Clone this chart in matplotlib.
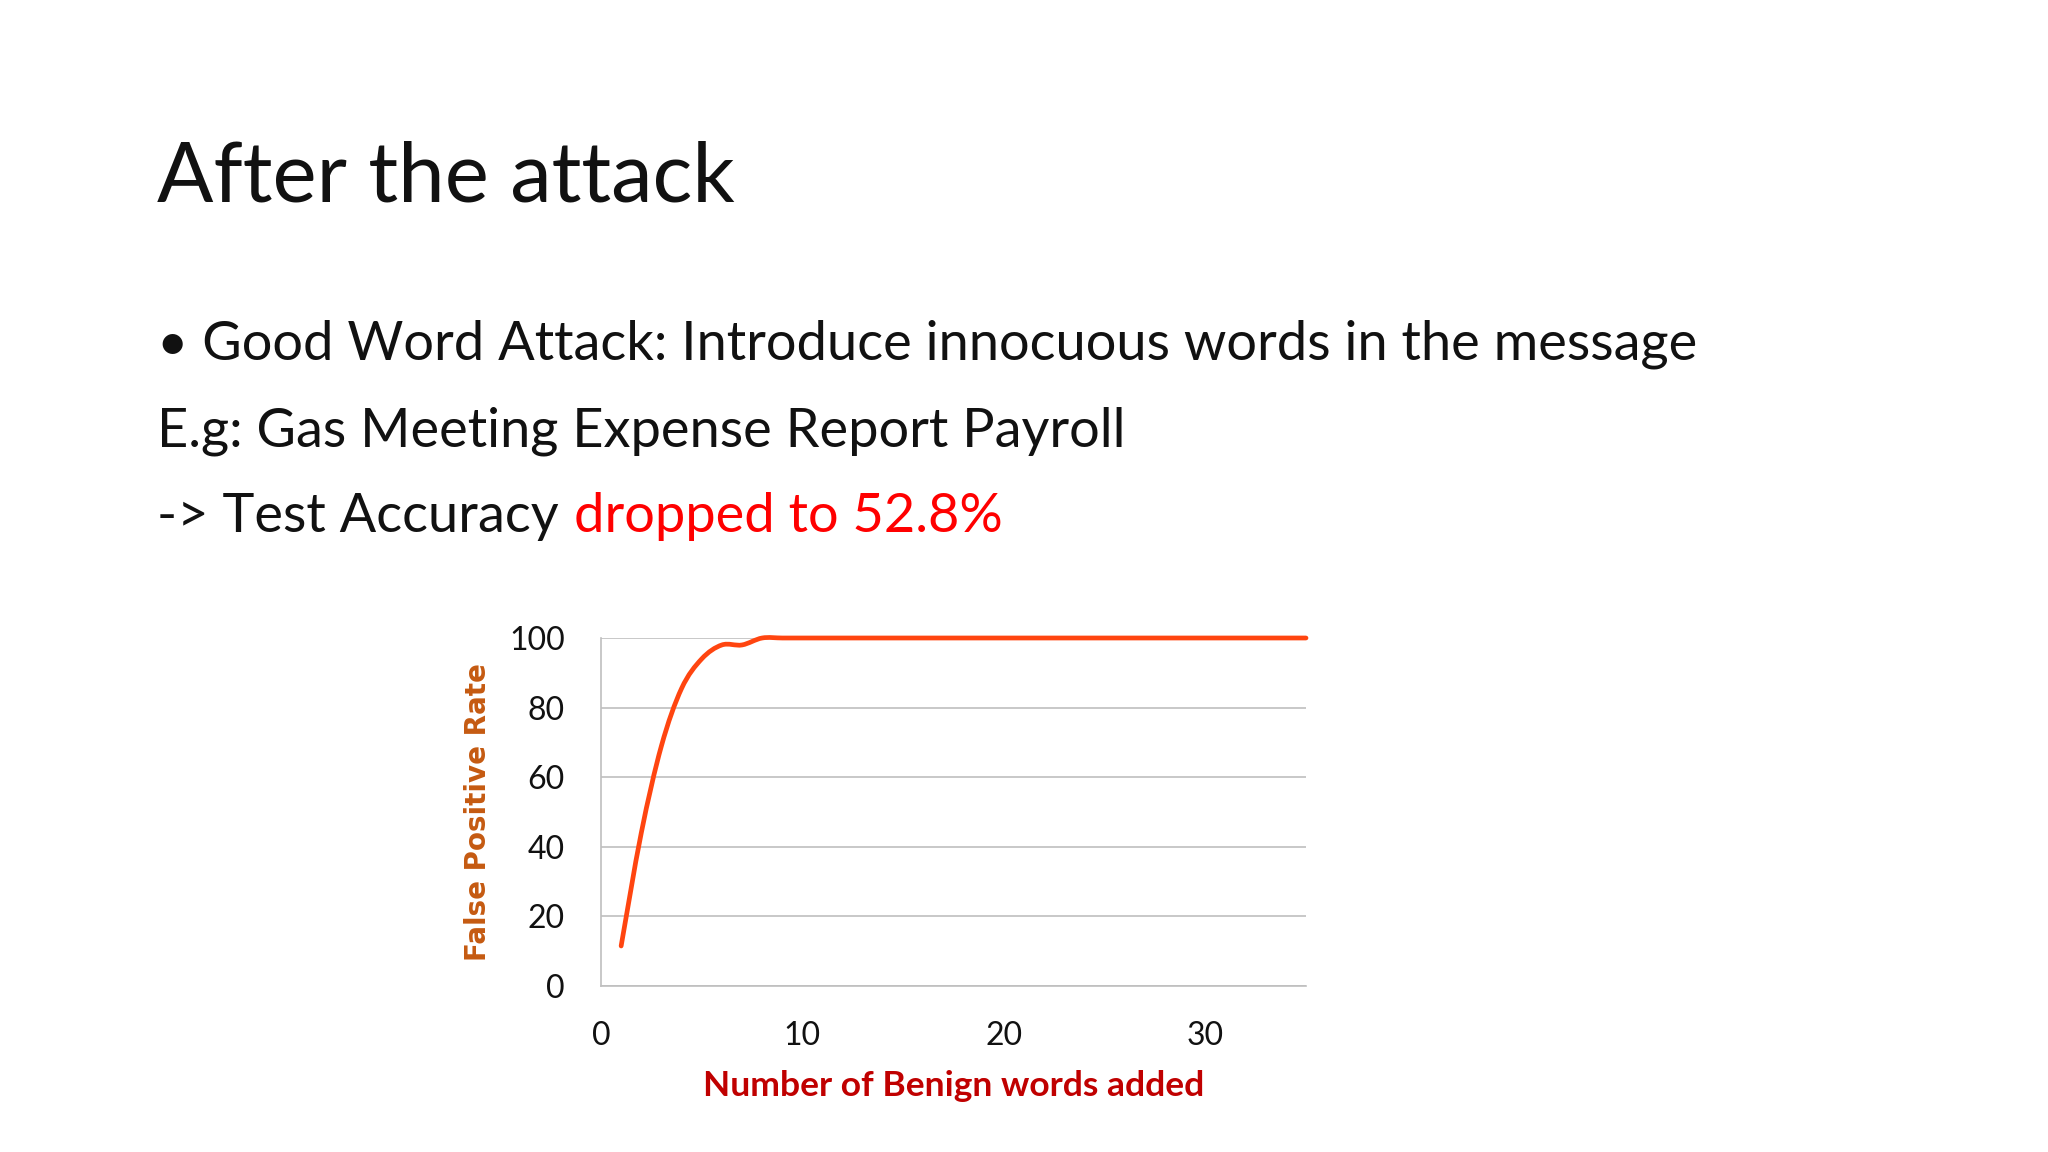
import numpy as np
import matplotlib
matplotlib.use('Agg')
import matplotlib.pyplot as plt
from matplotlib.path import Path
from matplotlib.patches import PathPatch

# Values
words_added = [1, 2, 3, 4, 5, 6, 7, 8, 9, 10, 11, 12, 13, 14, 15, 16, 17, 18,
               19, 20, 21, 22, 23, 24, 25, 26, 27, 28, 29, 30, 31, 32, 33, 34, 35]
false_pos_rate = [11.5, 44, 69, 85.5, 94, 98, 98, 100, 100, 100, 100, 100, 100, 100,
                  100, 100, 100, 100, 100, 100, 100, 100, 100, 100, 100, 100, 100,
                  100, 100, 100, 100, 100, 100, 100, 100]
y_ticks = [0, 20, 40, 60, 80, 100]
x_ticks = [0, 10, 20, 30]

TITLE = "After the attack"
BULLET = "\u2022 Good Word Attack: Introduce innocuous words in the message"
EXAMPLE = "E.g: Gas Meeting Expense Report Payroll"
RESULT_BLACK = "-> Test Accuracy "
RESULT_RED = "dropped to 52.8%"

FONT = 'Lato'
LINE_COLOR = '#FF4510'
BODY_SIZE = 39


def smooth_path(x, y):
    # Excel-style smoothed line: Catmull-Rom segments as cubic Beziers
    pts = np.column_stack([x, y]).astype(float)
    verts = [pts[0]]
    codes = [Path.MOVETO]
    n = len(pts)
    for i in range(n - 1):
        p0 = pts[max(i - 1, 0)]
        p1 = pts[i]
        p2 = pts[i + 1]
        p3 = pts[min(i + 2, n - 1)]
        c1 = p1 + (p2 - p0) / 6
        c2 = p2 - (p3 - p1) / 6
        verts += [c1, c2, p2]
        codes += [Path.CURVE4] * 3
    return Path(verts, codes)


fig = plt.figure(figsize=(20.48, 11.52), dpi=100)
fig.patch.set_facecolor('white')

# Slide text
fig.text(157 / 2048, 1 - 202 / 1152, TITLE, family=FONT, fontsize=60,
         color='#111111', va='baseline')
fig.text(157 / 2048, 1 - 344 / 1152, BULLET, family=FONT, fontsize=BODY_SIZE,
         color='#111111', va='center')
fig.text(157 / 2048, 1 - 431 / 1152, EXAMPLE, family=FONT, fontsize=BODY_SIZE,
         color='#111111', va='center')
t = fig.text(157 / 2048, 1 - 516 / 1152, RESULT_BLACK, family=FONT,
             fontsize=BODY_SIZE, color='#111111', va='center')
fig.canvas.draw()
bb = t.get_window_extent()
fig.text((bb.x1 + 2) / 2048, 1 - 516 / 1152, RESULT_RED, family=FONT,
         fontsize=BODY_SIZE, color='#FF0000', va='center')

# Chart
ax = fig.add_axes([601 / 2048, 1 - 986 / 1152, 705 / 2048, 348 / 1152])
ax.set_xlim(0, 35)
ax.set_ylim(0, 100)
ax.set_yticks(y_ticks)
ax.set_xticks(x_ticks)
ax.grid(axis='y', color='#BFBFBF', linewidth=1.2)
ax.set_axisbelow(True)
for side in ['top', 'right']:
    ax.spines[side].set_visible(False)
for side in ['left', 'bottom']:
    ax.spines[side].set_color('#BFBFBF')
    ax.spines[side].set_linewidth(1.2)
ax.tick_params(length=0, labelsize=23, colors='#111111')
ax.tick_params(axis='y', pad=26)
ax.tick_params(axis='x', pad=25)
for lbl in ax.get_xticklabels() + ax.get_yticklabels():
    lbl.set_family(FONT)

ax.add_patch(PathPatch(smooth_path(words_added, false_pos_rate), facecolor='none',
                       edgecolor=LINE_COLOR, linewidth=3.4, capstyle='round',
                       joinstyle='round', clip_on=False, zorder=3))

ax.set_ylabel('False Positive Rate', family='DejaVu Sans', fontweight='bold',
              fontsize=20, color='#C55A11', labelpad=12)
ax.set_xlabel('Number of Benign words added', family=FONT, fontweight='bold',
              fontsize=25.5, color='#C00000', labelpad=14)

fig.savefig('out.png', dpi=100, facecolor='white')
